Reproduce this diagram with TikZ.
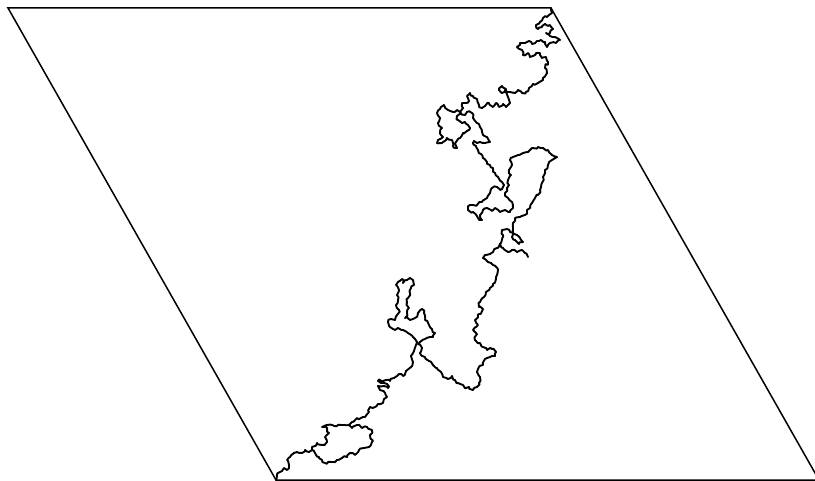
\documentclass[tikz,border=0pt]{standalone}
\usetikzlibrary{decorations.pathmorphing}
\begin{document}
\begin{tikzpicture}[x=1pt,y=-1pt,
  frame/.style={line width=1.5pt,line join=miter},
  walk/.style={line width=1.9pt,line join=round,line cap=round,
    decorate,decoration={random steps,segment length=2.6pt,amplitude=1.4pt}}]
\pgfmathsetseed{4321}
\useasboundingbox (0,0) rectangle (815,481);
\clip (0,0) rectangle (815,481);
\coordinate (tl) at (8,8);
\coordinate (tr) at (551,8);
\coordinate (br) at (819,480);
\coordinate (bl) at (276,480);
\draw[frame] (tl) -- (tr) -- (br) -- (bl) -- cycle;
\coordinate (j1) at (349,425);
\coordinate (j2) at (312,450);
\coordinate (j3) at (500,244);
\coordinate (k1) at (417,342);
\coordinate (k2) at (497,275);
\coordinate (k3) at (483,158);
\coordinate (k4) at (547,73);
% main random curve, in pieces
\draw[walk] (bl) -- (277,475) -- (280,472) -- (284,468) -- (287,470) -- (289,465) -- (287,460) -- (290,457) -- (294,453) -- (297,452) -- (302,453) -- (305,450) -- (309,452) -- (j2) -- (312,447) -- (317,443) -- (322,445) -- (327,442) -- (325,437) -- (329,433) -- (327,428) -- (322,427) -- (327,425) -- (332,425) -- (337,426) -- (342,425) -- (j1)
 -- (352,422) -- (357,418) -- (361,418) -- (365,417) -- (369,412) -- (370,407) -- (375,407) -- (378,404) -- (383,403) -- (384,399) -- (387,397) -- (385,393) -- (380,390) -- (378,386) -- (384,386) -- (388,388) -- (387,384) -- (381,383) -- (378,381) -- (386,380) -- (390,381) -- (394,378) -- (399,374) -- (403,376) -- (406,371) -- (411,367) -- (413,362) -- (411,356) -- (414,351) -- (416,345) -- (k1);
\draw[walk] (k1) -- (413,337) -- (408,333) -- (403,330) -- (398,328) -- (393,329) -- (390,327) -- (388,322) -- (391,319) -- (395,320) -- (397,315) -- (399,310) -- (396,305) -- (398,300) -- (397,295) -- (399,290) -- (396,285) -- (398,282) -- (402,279) -- (403,283) -- (407,280) -- (410,278) -- (413,280) -- (414,285) -- (411,288) -- (410,293) -- (408,298) -- (407,303) -- (409,308) -- (407,313) -- (405,318) -- (410,320) -- (415,318) -- (418,313) -- (422,309) -- (424,313) -- (425,320) -- (429,325) -- (432,329) -- (435,333) -- (433,337) -- (430,337) -- (425,339) -- (420,342) -- (418,344)
 -- (422,348) -- (420,353) -- (425,357) -- (429,361) -- (433,365) -- (437,368) -- (441,372) -- (443,377) -- (448,379) -- (452,376) -- (455,380) -- (458,383) -- (463,385) -- (466,388) -- (469,387) -- (473,390) -- (477,387) -- (479,383) -- (480,377) -- (477,372) -- (479,367) -- (483,365) -- (485,359) -- (490,357) -- (495,356) -- (496,352) -- (492,349) -- (487,350) -- (483,347) -- (480,343) -- (475,340) -- (477,334) -- (473,330) -- (478,325) -- (475,320) -- (479,314) -- (483,309) -- (479,307) -- (480,302) -- (484,297) -- (486,292) -- (490,288) -- (493,284) -- (496,279) -- (k2);
\draw[walk] (k2) -- (498,270) -- (493,265) -- (488,262) -- (483,258) -- (485,255) -- (490,254) -- (493,252) -- (497,248) -- (j3)
 -- (503,235) -- (502,230) -- (507,229) -- (510,232) -- (513,233) -- (517,235) -- (520,238) -- (523,242) -- (519,244) -- (515,240) -- (512,237) -- (513,228) -- (513,223) -- (515,218) -- (520,217) -- (525,215) -- (527,210) -- (530,208) -- (532,203) -- (535,198) -- (538,195) -- (540,190) -- (542,183) -- (543,177) -- (545,170) -- (548,165) -- (552,160) -- (557,157) -- (552,155) -- (548,150) -- (543,148) -- (538,147) -- (532,148) -- (528,152) -- (523,153) -- (518,155) -- (513,157) -- (510,160) -- (512,165) -- (509,170) -- (511,175) -- (508,180) -- (509,185) -- (507,188) -- (505,193) -- (508,198) -- (512,202) -- (513,208) -- (510,212) -- (505,210) -- (500,212) -- (495,208) -- (492,211) -- (487,208) -- (483,210) -- (480,215) -- (482,220) -- (478,218) -- (473,212) -- (468,210) -- (470,205) -- (477,205) -- (482,202) -- (487,198) -- (490,193) -- (492,188) -- (497,187) -- (500,190) -- (503,187) -- (502,182) -- (498,177) -- (495,173) -- (493,168) -- (490,165) -- (487,162) -- (k3);
\draw[walk] (k3) -- (481,154) -- (478,150) -- (476,146) -- (473,143) -- (474,141) -- (477,143) -- (480,142) -- (485,143) -- (490,142) -- (487,137) -- (483,135) -- (482,132) -- (480,127) -- (477,123) -- (473,118) -- (472,113) -- (467,112) -- (465,115) -- (461,113) -- (457,116) -- (458,120) -- (462,123) -- (465,122) -- (468,125) -- (470,128) -- (467,131) -- (463,133) -- (460,138) -- (456,142) -- (457,148) -- (453,146) -- (452,140) -- (447,138) -- (442,143) -- (437,143) -- (438,140) -- (443,137) -- (440,133) -- (442,128) -- (438,123) -- (440,118) -- (437,113) -- (440,109) -- (444,105) -- (448,110) -- (453,112) -- (457,110) -- (460,112) -- (463,108) -- (462,103) -- (465,103) -- (469,101) -- (467,96) -- (470,93) -- (473,96) -- (477,99) -- (479,105) -- (482,108) -- (485,106) -- (489,103) -- (493,107) -- (496,103) -- (499,107) -- (503,104) -- (506,107) -- (510,103) -- (508,97) -- (506,89) -- (502,86) -- (499,90) -- (502,93) -- (505,90) -- (510,92) -- (515,93) -- (518,90) -- (522,93) -- (526,92) -- (529,88) -- (533,84) -- (538,83) -- (543,80) -- (k4);
\draw[walk] (k4) -- (545,68) -- (548,62) -- (546,57) -- (542,58) -- (540,53) -- (536,53) -- (533,56) -- (530,57) -- (528,53) -- (523,55) -- (522,50) -- (517,47) -- (520,43) -- (525,43) -- (529,41) -- (532,44) -- (537,41) -- (541,40) -- (545,42) -- (547,47) -- (550,43) -- (556,43) -- (560,40) -- (555,37) -- (550,36) -- (546,33) -- (550,33) -- (553,29) -- (550,25) -- (545,24) -- (542,27) -- (538,29) -- (536,25) -- (540,22) -- (543,18) -- (547,17) -- (549,15) -- (552,13) -- (551,10) -- (tr);
% lower lobe of the curve near the start
\draw[walk] (j1) -- (352,428) -- (357,425) -- (362,428) -- (367,427) -- (372,430) -- (370,435) -- (372,442) -- (369,447) -- (364,448) -- (359,450) -- (355,455) -- (350,453) -- (347,457) -- (342,458) -- (337,460) -- (332,462) -- (325,463) -- (322,460) -- (319,457) -- (315,453) -- (j2);
% thin fjord reaching to the right
\draw[walk] (j3) -- (503,248) -- (508,252) -- (512,250) -- (517,252) -- (522,250) -- (525,253) -- (528,257);
\end{tikzpicture}
\end{document}
